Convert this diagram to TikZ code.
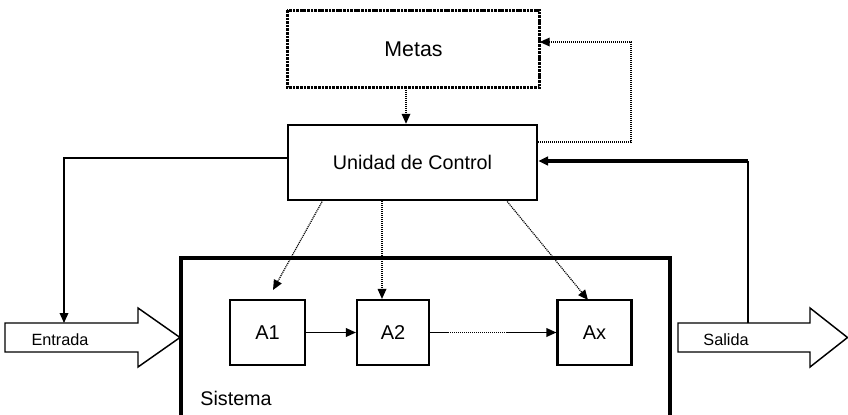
\documentclass[tikz,border=0pt]{standalone}
\usepackage{fontspec}
\setmainfont{Liberation Sans}
\usetikzlibrary{arrows.meta}
\begin{document}
\begin{tikzpicture}[x=0.75pt,y=-0.75pt,
  box/.style={draw,line width=1.8pt,fill=white,font=\fontsize{15}{18}\selectfont,inner sep=0pt},
  abox/.style={draw,line width=1.6pt,minimum height=48.75pt,font=\fontsize{15}{18}\selectfont,inner sep=0pt},
  tip/.style={-{Triangle[length=7.5pt,width=6.5pt]}},
  conn/.style={tip,line width=1pt},
  dotconn/.style={tip,line width=0.9pt,dash pattern=on 0.8pt off 0.7pt},
  bigarrow/.style={draw,line width=1.1pt,fill=white}]
\useasboundingbox (0,0) rectangle (848,414);
% boxes
\node[box,draw=none,minimum width=187.5pt,minimum height=56.25pt,font=\fontsize{16}{19}\selectfont] (metas) at (413.5,49) {Metas};
\draw[line width=2.5pt,dash pattern=on 2pt off 0.7pt] (metas.north west) rectangle (metas.south east);
\node[box,minimum width=186.75pt,minimum height=56.25pt,font=\fontsize{14.8}{18}\selectfont] (ctrl) at (412.5,162.5) {Unidad de Control};
% Sistema frame
\coordinate (sisTL) at (181,258);
\coordinate (sisTR) at (670,258);
\draw[line width=2.6pt] (181,420) -- (sisTL) -- (sisTR) -- (670,420);
\node[font=\fontsize{14.8}{18}\selectfont] (sis) at (236,398) {Sistema};
\node[abox,minimum width=56.25pt] (a1) at (267.5,332.5) {A1};
\node[abox,minimum width=54pt] (a2) at (393,332.5) {A2};
\node[abox,minimum width=55.5pt] (ax) at (594.5,332.5) {Ax};
% big arrows
\draw[bigarrow] (5,323) -- (138,323) -- (138,308) -- (180,337.5) -- (138,367) -- (138,352) -- (5,352) -- cycle;
\coordinate (entop) at (64,323);
\node[font=\fontsize{12.2}{14}\selectfont] (ent) at (60,340) {Entrada};
\draw[bigarrow] (678,323) -- (810,323) -- (810,308) -- (847.5,337.5) -- (810,367) -- (810,352) -- (678,352) -- cycle;
\coordinate (saltop) at (748,323);
\node[font=\fontsize{12.2}{14}\selectfont] (sal) at (726,340) {Salida};
% connectors
\draw[dotconn] (metas.south -| 406,0) -- (ctrl.north -| 406,0);
\draw[dotconn] (ctrl.east |- 0,142) -| (631,42) -- (metas.east |- 0,42);
\draw[line width=1pt] (saltop) -- (748,161);
\draw[tip,line width=2.6pt] (748,161) -- (ctrl.east |- 0,161);
\draw[conn] (ctrl.west |- 0,158) -| (entop);
\draw[dotconn] (323,200) -- (273,290);
\draw[dotconn] (ctrl.south -| 382,0) -- (a2.north -| 382,0);
\draw[dotconn] (506,200) -- (588,300);
\draw[conn] (a1.east) -- (a2.west);
\draw[line width=1pt] (a2.east) -- (448,332.5);
\draw[line width=0.9pt,dash pattern=on 0.8pt off 0.7pt] (448,332.5) -- (506,332.5);
\draw[conn] (506,332.5) -- (ax.west);
\end{tikzpicture}
\end{document}
